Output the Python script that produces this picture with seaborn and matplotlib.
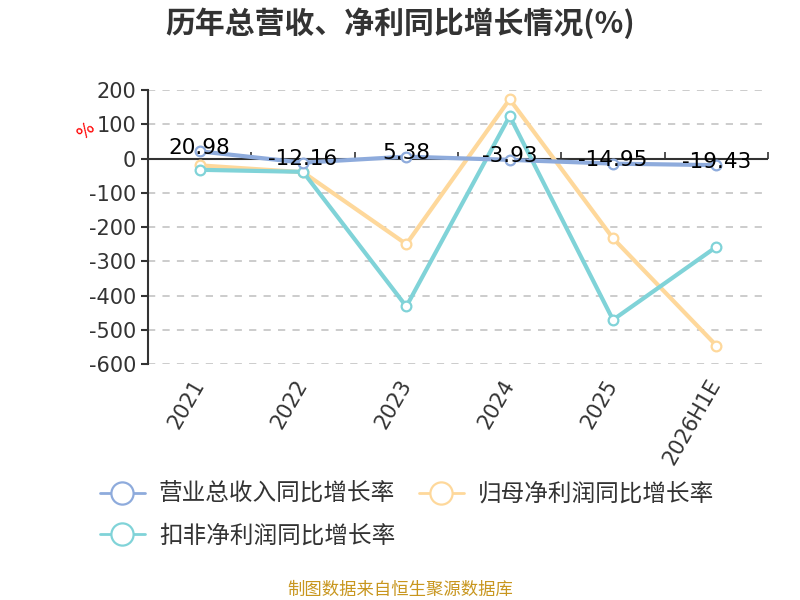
import pandas as pd
import numpy as np
import matplotlib
matplotlib.use('Agg')
import matplotlib.pyplot as plt
import seaborn as sns
from matplotlib.lines import Line2D

# data
years = ['2021', '2022', '2023', '2024', '2025', '2026H1E']
revenue_growth = [20.98, -12.16, 5.38, -3.93, -14.95, -19.43]
net_profit_growth = [-20, -40, -250, 173, -233, -546]
deducted_profit_growth = [-33, -39, -432, 124, -471, -258]

series_names = ['营业总收入同比增长率', '归母净利润同比增长率', '扣非净利润同比增长率']
colors = ['#8eabdc', '#fed89b', '#80d3d8']

sns.set_theme(style='white')
plt.rcParams['font.family'] = ['DejaVu Sans', 'Noto Sans CJK SC']
plt.rcParams['axes.unicode_minus'] = False

df = pd.DataFrame({
    'year': years * 3,
    'value': revenue_growth + net_profit_growth + deducted_profit_growth,
    'series': [series_names[0]] * 6 + [series_names[1]] * 6 + [series_names[2]] * 6,
})
df['pos'] = list(range(len(years))) * 3

fig = plt.figure(figsize=(8, 6), dpi=100)
ax = fig.add_axes([0.185, 0.3933, 0.775, 0.4567])

# draw order: yellow and teal below, blue on top
for name, col, z in [(series_names[1], colors[1], 2), (series_names[2], colors[2], 3), (series_names[0], colors[0], 4)]:
    sns.lineplot(data=df[df['series'] == name], x='pos', y='value', ax=ax, color=col,
                 linewidth=3, marker='o', markersize=7, markerfacecolor='white',
                 markeredgecolor=col, markeredgewidth=1.6, sort=False, zorder=z)

ax.set_xlim(-0.5, len(years) - 0.5)
ax.set_ylim(-600, 200)
ax.set_yticks(np.arange(-600, 201, 100))
ax.yaxis.grid(True, color='#c8c8c8', linestyle=(0, (4, 4)), linewidth=1.3)
ax.set_axisbelow(True)

for s in ['top', 'right', 'bottom']:
    ax.spines[s].set_visible(False)
ax.spines['left'].set_color('#333333')
ax.spines['left'].set_linewidth(1.5)

ax.set_xticks(range(len(years)))
ax.set_xticklabels(years, rotation=60, ha='right', va='center', rotation_mode='anchor',
                   fontsize=15, color='#333333')
ax.tick_params(axis='x', length=0, pad=12)
ax.tick_params(axis='y', left=True, length=5, width=1.5, color='#333333', labelsize=15, labelcolor='#333333')
ax.set_xlabel('')
ax.set_ylabel('')

# zero line acting as the category axis
ax.axhline(0, color='#333333', linewidth=1.5, zorder=1)
sec = ax.secondary_xaxis(0.75)
sec.set_xticks(np.arange(-0.5, len(years), 1.0))
sec.set_xticklabels([''] * (len(years) + 1))
sec.tick_params(axis='x', direction='out', length=5, width=1.2, color='#333333')
sec.spines['bottom'].set_visible(False)
sec.spines['top'].set_visible(False)

# value labels for revenue growth
for i, v in enumerate(revenue_growth):
    ax.text(i, v + 10, f'{v:.2f}', ha='center', va='center', fontsize=15.5, color='black', zorder=5)

fig.text(87 / 800, 1 - 130 / 600, '%', color='red', fontsize=13, rotation=45,
         ha='center', va='center')

fig.text(0.5, 0.962, '历年总营收、净利同比增长情况(%)', ha='center', va='center', fontsize=21.5,
         fontweight='bold', color='#333333', family=['Noto Sans CJK SC', 'DejaVu Sans'])

handles = [Line2D([0], [0], color=c, linewidth=2, marker='o', markersize=16,
                  markerfacecolor='white', markeredgecolor=c, markeredgewidth=1.6) for c in colors]
# legend fills column-first, so reorder to get row-first layout
order = [0, 2, 1]
leg = fig.legend([handles[k] for k in order], [series_names[k] for k in order],
                 loc='upper left', bbox_to_anchor=(0.11, 0.215), ncol=2,
                 frameon=False, handlelength=1.9, handletextpad=0.6,
                 columnspacing=1.0, labelspacing=0.8, borderpad=0,
                 prop={'family': ['Noto Sans CJK SC', 'DejaVu Sans'], 'size': 17})
for t in leg.get_texts():
    t.set_color('#333333')

fig.text(0.5, 0.017, '制图数据来自恒生聚源数据库', ha='center', va='center', fontsize=12.5,
         color='#c8961e', family=['Noto Sans CJK SC', 'DejaVu Sans'])

fig.savefig('out.png', dpi=100)
